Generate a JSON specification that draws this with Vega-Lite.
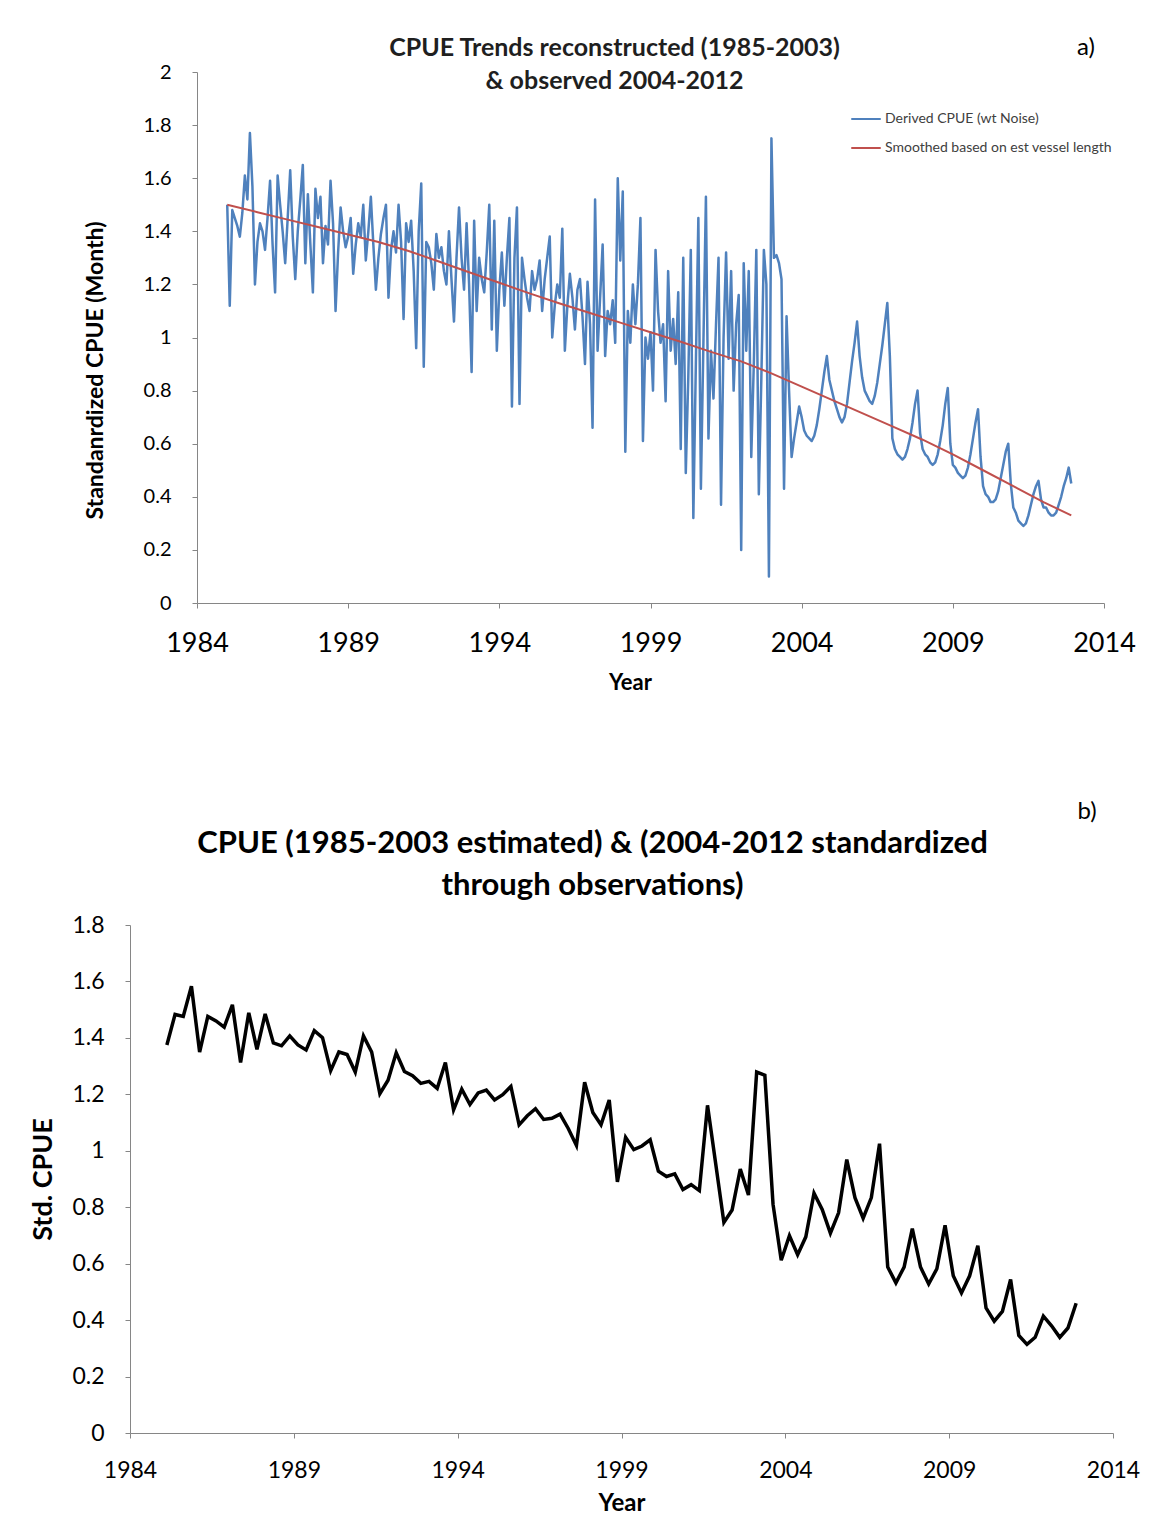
{
"$schema":"https://vega.github.io/schema/vega-lite/v6.json",
"padding":{"left":10,"top":36,"right":5,"bottom":5},
"background":"white",
"config":{"font":"Lato","view":{"stroke":null},"axis":{"grid":false,"domainColor":"#868686","tickColor":"#868686","tickSize":5,"labelColor":"#000","titleColor":"#000","labelFont":"Lato","titleFont":"Lato","labelFlush":false}},
"datasets":{
"monthly":[
{"t":1985,"v":1.50},{"t":1985.083,"v":1.12},{"t":1985.167,"v":1.48},{"t":1985.25,"v":1.45},{"t":1985.333,"v":1.42},{"t":1985.417,"v":1.38},{"t":1985.5,"v":1.47},{"t":1985.583,"v":1.61},{"t":1985.667,"v":1.52},{"t":1985.75,"v":1.77},{"t":1985.833,"v":1.57},{"t":1985.917,"v":1.20},
{"t":1986,"v":1.36},{"t":1986.083,"v":1.43},{"t":1986.167,"v":1.40},{"t":1986.25,"v":1.33},{"t":1986.333,"v":1.45},{"t":1986.417,"v":1.59},{"t":1986.5,"v":1.35},{"t":1986.583,"v":1.17},{"t":1986.667,"v":1.61},{"t":1986.75,"v":1.50},{"t":1986.833,"v":1.40},{"t":1986.917,"v":1.28},
{"t":1987,"v":1.45},{"t":1987.083,"v":1.63},{"t":1987.167,"v":1.38},{"t":1987.25,"v":1.22},{"t":1987.333,"v":1.40},{"t":1987.417,"v":1.52},{"t":1987.5,"v":1.65},{"t":1987.583,"v":1.28},{"t":1987.667,"v":1.54},{"t":1987.75,"v":1.35},{"t":1987.833,"v":1.17},{"t":1987.917,"v":1.56},
{"t":1988,"v":1.45},{"t":1988.083,"v":1.53},{"t":1988.167,"v":1.28},{"t":1988.25,"v":1.42},{"t":1988.333,"v":1.35},{"t":1988.417,"v":1.59},{"t":1988.5,"v":1.43},{"t":1988.583,"v":1.10},{"t":1988.667,"v":1.32},{"t":1988.75,"v":1.49},{"t":1988.833,"v":1.40},{"t":1988.917,"v":1.34},
{"t":1989,"v":1.38},{"t":1989.083,"v":1.45},{"t":1989.167,"v":1.24},{"t":1989.25,"v":1.35},{"t":1989.333,"v":1.43},{"t":1989.417,"v":1.38},{"t":1989.5,"v":1.50},{"t":1989.583,"v":1.29},{"t":1989.667,"v":1.40},{"t":1989.75,"v":1.53},{"t":1989.833,"v":1.35},{"t":1989.917,"v":1.18},
{"t":1990,"v":1.30},{"t":1990.083,"v":1.39},{"t":1990.167,"v":1.45},{"t":1990.25,"v":1.50},{"t":1990.333,"v":1.15},{"t":1990.417,"v":1.33},{"t":1990.5,"v":1.40},{"t":1990.583,"v":1.32},{"t":1990.667,"v":1.50},{"t":1990.75,"v":1.36},{"t":1990.833,"v":1.07},{"t":1990.917,"v":1.43},
{"t":1991,"v":1.36},{"t":1991.083,"v":1.44},{"t":1991.167,"v":1.25},{"t":1991.25,"v":0.96},{"t":1991.333,"v":1.40},{"t":1991.417,"v":1.58},{"t":1991.5,"v":0.89},{"t":1991.583,"v":1.36},{"t":1991.667,"v":1.34},{"t":1991.75,"v":1.28},{"t":1991.833,"v":1.18},{"t":1991.917,"v":1.39},
{"t":1992,"v":1.30},{"t":1992.083,"v":1.34},{"t":1992.167,"v":1.25},{"t":1992.25,"v":1.20},{"t":1992.333,"v":1.40},{"t":1992.417,"v":1.22},{"t":1992.5,"v":1.06},{"t":1992.583,"v":1.30},{"t":1992.667,"v":1.49},{"t":1992.75,"v":1.30},{"t":1992.833,"v":1.18},{"t":1992.917,"v":1.43},
{"t":1993,"v":1.20},{"t":1993.083,"v":0.87},{"t":1993.167,"v":1.44},{"t":1993.25,"v":1.10},{"t":1993.333,"v":1.30},{"t":1993.417,"v":1.22},{"t":1993.5,"v":1.17},{"t":1993.583,"v":1.32},{"t":1993.667,"v":1.50},{"t":1993.75,"v":1.03},{"t":1993.833,"v":1.44},{"t":1993.917,"v":0.95},
{"t":1994,"v":1.18},{"t":1994.083,"v":1.32},{"t":1994.167,"v":1.12},{"t":1994.25,"v":1.30},{"t":1994.333,"v":1.45},{"t":1994.417,"v":0.74},{"t":1994.5,"v":1.30},{"t":1994.583,"v":1.49},{"t":1994.667,"v":0.75},{"t":1994.75,"v":1.30},{"t":1994.833,"v":1.22},{"t":1994.917,"v":1.15},
{"t":1995,"v":1.10},{"t":1995.083,"v":1.25},{"t":1995.167,"v":1.18},{"t":1995.25,"v":1.22},{"t":1995.333,"v":1.29},{"t":1995.417,"v":1.10},{"t":1995.5,"v":1.22},{"t":1995.583,"v":1.30},{"t":1995.667,"v":1.38},{"t":1995.75,"v":1.00},{"t":1995.833,"v":1.12},{"t":1995.917,"v":1.20},
{"t":1996,"v":1.15},{"t":1996.083,"v":1.41},{"t":1996.167,"v":0.95},{"t":1996.25,"v":1.12},{"t":1996.333,"v":1.24},{"t":1996.417,"v":1.15},{"t":1996.5,"v":1.03},{"t":1996.583,"v":1.18},{"t":1996.667,"v":1.22},{"t":1996.75,"v":1.08},{"t":1996.833,"v":0.90},{"t":1996.917,"v":1.21},
{"t":1997,"v":1.05},{"t":1997.083,"v":0.66},{"t":1997.167,"v":1.52},{"t":1997.25,"v":0.95},{"t":1997.333,"v":1.15},{"t":1997.417,"v":1.35},{"t":1997.5,"v":0.93},{"t":1997.583,"v":1.10},{"t":1997.667,"v":1.05},{"t":1997.75,"v":1.14},{"t":1997.833,"v":0.98},{"t":1997.917,"v":1.60},
{"t":1998,"v":1.29},{"t":1998.083,"v":1.55},{"t":1998.167,"v":0.57},{"t":1998.25,"v":1.10},{"t":1998.333,"v":0.98},{"t":1998.417,"v":1.20},{"t":1998.5,"v":1.05},{"t":1998.583,"v":1.20},{"t":1998.667,"v":1.45},{"t":1998.75,"v":0.61},{"t":1998.833,"v":1.00},{"t":1998.917,"v":0.92},
{"t":1999,"v":1.02},{"t":1999.083,"v":0.80},{"t":1999.167,"v":1.33},{"t":1999.25,"v":1.10},{"t":1999.333,"v":0.98},{"t":1999.417,"v":1.05},{"t":1999.5,"v":0.76},{"t":1999.583,"v":1.25},{"t":1999.667,"v":0.95},{"t":1999.75,"v":1.07},{"t":1999.833,"v":0.90},{"t":1999.917,"v":1.17},
{"t":2000,"v":0.58},{"t":2000.083,"v":1.30},{"t":2000.167,"v":0.49},{"t":2000.25,"v":0.85},{"t":2000.333,"v":1.33},{"t":2000.417,"v":0.32},{"t":2000.5,"v":0.90},{"t":2000.583,"v":1.45},{"t":2000.667,"v":0.43},{"t":2000.75,"v":0.98},{"t":2000.833,"v":1.53},{"t":2000.917,"v":0.62},
{"t":2001,"v":0.95},{"t":2001.083,"v":0.77},{"t":2001.167,"v":1.05},{"t":2001.25,"v":1.30},{"t":2001.333,"v":0.37},{"t":2001.417,"v":1.00},{"t":2001.5,"v":1.32},{"t":2001.583,"v":0.92},{"t":2001.667,"v":1.25},{"t":2001.75,"v":0.80},{"t":2001.833,"v":1.05},{"t":2001.917,"v":1.16},
{"t":2002,"v":0.20},{"t":2002.083,"v":1.28},{"t":2002.167,"v":0.95},{"t":2002.25,"v":1.25},{"t":2002.333,"v":0.55},{"t":2002.417,"v":0.90},{"t":2002.5,"v":1.33},{"t":2002.583,"v":0.41},{"t":2002.667,"v":0.85},{"t":2002.75,"v":1.33},{"t":2002.833,"v":1.20},{"t":2002.917,"v":0.10},
{"t":2003,"v":1.75},{"t":2003.083,"v":1.30},{"t":2003.167,"v":1.31},{"t":2003.25,"v":1.28},{"t":2003.333,"v":1.22},{"t":2003.417,"v":0.43},{"t":2003.5,"v":1.08},{"t":2003.583,"v":0.80},{"t":2003.667,"v":0.55},{"t":2003.75,"v":0.62},{"t":2003.833,"v":0.68},{"t":2003.917,"v":0.74},
{"t":2004,"v":0.70},{"t":2004.083,"v":0.65},{"t":2004.167,"v":0.63},{"t":2004.25,"v":0.62},{"t":2004.333,"v":0.61},{"t":2004.417,"v":0.63},{"t":2004.5,"v":0.67},{"t":2004.583,"v":0.73},{"t":2004.667,"v":0.80},{"t":2004.75,"v":0.87},{"t":2004.833,"v":0.93},{"t":2004.917,"v":0.84},
{"t":2005,"v":0.80},{"t":2005.083,"v":0.76},{"t":2005.167,"v":0.73},{"t":2005.25,"v":0.70},{"t":2005.333,"v":0.68},{"t":2005.417,"v":0.70},{"t":2005.5,"v":0.75},{"t":2005.583,"v":0.83},{"t":2005.667,"v":0.91},{"t":2005.75,"v":0.98},{"t":2005.833,"v":1.06},{"t":2005.917,"v":0.93},
{"t":2006,"v":0.85},{"t":2006.083,"v":0.80},{"t":2006.167,"v":0.78},{"t":2006.25,"v":0.76},{"t":2006.333,"v":0.75},{"t":2006.417,"v":0.78},{"t":2006.5,"v":0.83},{"t":2006.583,"v":0.90},{"t":2006.667,"v":0.97},{"t":2006.75,"v":1.05},{"t":2006.833,"v":1.13},{"t":2006.917,"v":0.93},
{"t":2007,"v":0.62},{"t":2007.083,"v":0.58},{"t":2007.167,"v":0.56},{"t":2007.25,"v":0.55},{"t":2007.333,"v":0.54},{"t":2007.417,"v":0.55},{"t":2007.5,"v":0.58},{"t":2007.583,"v":0.62},{"t":2007.667,"v":0.68},{"t":2007.75,"v":0.75},{"t":2007.833,"v":0.80},{"t":2007.917,"v":0.64},
{"t":2008,"v":0.58},{"t":2008.083,"v":0.56},{"t":2008.167,"v":0.55},{"t":2008.25,"v":0.53},{"t":2008.333,"v":0.52},{"t":2008.417,"v":0.53},{"t":2008.5,"v":0.56},{"t":2008.583,"v":0.61},{"t":2008.667,"v":0.67},{"t":2008.75,"v":0.75},{"t":2008.833,"v":0.81},{"t":2008.917,"v":0.60},
{"t":2009,"v":0.52},{"t":2009.083,"v":0.51},{"t":2009.167,"v":0.49},{"t":2009.25,"v":0.48},{"t":2009.333,"v":0.47},{"t":2009.417,"v":0.48},{"t":2009.5,"v":0.51},{"t":2009.583,"v":0.56},{"t":2009.667,"v":0.62},{"t":2009.75,"v":0.68},{"t":2009.833,"v":0.73},{"t":2009.917,"v":0.55},
{"t":2010,"v":0.44},{"t":2010.083,"v":0.41},{"t":2010.167,"v":0.40},{"t":2010.25,"v":0.38},{"t":2010.333,"v":0.38},{"t":2010.417,"v":0.39},{"t":2010.5,"v":0.42},{"t":2010.583,"v":0.47},{"t":2010.667,"v":0.52},{"t":2010.75,"v":0.57},{"t":2010.833,"v":0.60},{"t":2010.917,"v":0.45},
{"t":2011,"v":0.36},{"t":2011.083,"v":0.34},{"t":2011.167,"v":0.31},{"t":2011.25,"v":0.30},{"t":2011.333,"v":0.29},{"t":2011.417,"v":0.30},{"t":2011.5,"v":0.33},{"t":2011.583,"v":0.37},{"t":2011.667,"v":0.41},{"t":2011.75,"v":0.44},{"t":2011.833,"v":0.46},{"t":2011.917,"v":0.39},
{"t":2012,"v":0.36},{"t":2012.083,"v":0.36},{"t":2012.167,"v":0.34},{"t":2012.25,"v":0.33},{"t":2012.333,"v":0.33},{"t":2012.417,"v":0.34},{"t":2012.5,"v":0.37},{"t":2012.583,"v":0.40},{"t":2012.667,"v":0.44},{"t":2012.75,"v":0.47},{"t":2012.833,"v":0.51},{"t":2012.917,"v":0.45}
],
"smooth":[
{"t":1985,"v":1.50},{"t":1986,"v":1.472},{"t":1987,"v":1.444},{"t":1988,"v":1.416},{"t":1989,"v":1.388},{"t":1990,"v":1.36},{"t":1991,"v":1.326},{"t":1992,"v":1.286},{"t":1993,"v":1.246},{"t":1994,"v":1.206},{"t":1995,"v":1.166},{"t":1996,"v":1.128},{"t":1997,"v":1.092},{"t":1998,"v":1.056},{"t":1999,"v":1.02},{"t":2000,"v":0.984},{"t":2001,"v":0.946},{"t":2002,"v":0.91},{"t":2003,"v":0.865},{"t":2004,"v":0.815},{"t":2005,"v":0.765},{"t":2006,"v":0.715},{"t":2007,"v":0.665},{"t":2008,"v":0.615},{"t":2009,"v":0.56},{"t":2010,"v":0.50},{"t":2011,"v":0.44},{"t":2012,"v":0.38},{"t":2012.917,"v":0.33}
],
"quarterly":[
{"t":1985.125,"v":1.375},{"t":1985.375,"v":1.483},{"t":1985.625,"v":1.476},{"t":1985.875,"v":1.583},
{"t":1986.125,"v":1.350},{"t":1986.375,"v":1.476},{"t":1986.625,"v":1.460},{"t":1986.875,"v":1.438},
{"t":1987.125,"v":1.517},{"t":1987.375,"v":1.313},{"t":1987.625,"v":1.489},{"t":1987.875,"v":1.359},
{"t":1988.125,"v":1.485},{"t":1988.375,"v":1.382},{"t":1988.625,"v":1.372},{"t":1988.875,"v":1.407},
{"t":1989.125,"v":1.375},{"t":1989.375,"v":1.357},{"t":1989.625,"v":1.426},{"t":1989.875,"v":1.401},
{"t":1990.125,"v":1.284},{"t":1990.375,"v":1.350},{"t":1990.625,"v":1.341},{"t":1990.875,"v":1.279},
{"t":1991.125,"v":1.407},{"t":1991.375,"v":1.350},{"t":1991.625,"v":1.202},{"t":1991.875,"v":1.250},
{"t":1992.125,"v":1.347},{"t":1992.375,"v":1.281},{"t":1992.625,"v":1.266},{"t":1992.875,"v":1.239},
{"t":1993.125,"v":1.246},{"t":1993.375,"v":1.221},{"t":1993.625,"v":1.313},{"t":1993.875,"v":1.145},
{"t":1994.125,"v":1.218},{"t":1994.375,"v":1.164},{"t":1994.625,"v":1.205},{"t":1994.875,"v":1.215},
{"t":1995.125,"v":1.180},{"t":1995.375,"v":1.199},{"t":1995.625,"v":1.228},{"t":1995.875,"v":1.092},
{"t":1996.125,"v":1.124},{"t":1996.375,"v":1.149},{"t":1996.625,"v":1.111},{"t":1996.875,"v":1.115},
{"t":1997.125,"v":1.130},{"t":1997.375,"v":1.079},{"t":1997.625,"v":1.019},{"t":1997.875,"v":1.243},
{"t":1998.125,"v":1.136},{"t":1998.375,"v":1.092},{"t":1998.625,"v":1.180},{"t":1998.875,"v":0.890},
{"t":1999.125,"v":1.048},{"t":1999.375,"v":1.004},{"t":1999.625,"v":1.017},{"t":1999.875,"v":1.039},
{"t":2000.125,"v":0.928},{"t":2000.375,"v":0.909},{"t":2000.625,"v":0.918},{"t":2000.875,"v":0.863},
{"t":2001.125,"v":0.880},{"t":2001.375,"v":0.859},{"t":2001.625,"v":1.161},{"t":2001.875,"v":0.954},
{"t":2002.125,"v":0.746},{"t":2002.375,"v":0.790},{"t":2002.625,"v":0.935},{"t":2002.875,"v":0.843},
{"t":2003.125,"v":1.279},{"t":2003.375,"v":1.268},{"t":2003.625,"v":0.810},{"t":2003.875,"v":0.612},
{"t":2004.125,"v":0.699},{"t":2004.375,"v":0.632},{"t":2004.625,"v":0.695},{"t":2004.875,"v":0.850},
{"t":2005.125,"v":0.792},{"t":2005.375,"v":0.708},{"t":2005.625,"v":0.780},{"t":2005.875,"v":0.969},
{"t":2006.125,"v":0.834},{"t":2006.375,"v":0.761},{"t":2006.625,"v":0.834},{"t":2006.875,"v":1.025},
{"t":2007.125,"v":0.588},{"t":2007.375,"v":0.532},{"t":2007.625,"v":0.588},{"t":2007.875,"v":0.724},
{"t":2008.125,"v":0.588},{"t":2008.375,"v":0.528},{"t":2008.625,"v":0.582},{"t":2008.875,"v":0.736},
{"t":2009.125,"v":0.557},{"t":2009.375,"v":0.496},{"t":2009.625,"v":0.557},{"t":2009.875,"v":0.664},
{"t":2010.125,"v":0.443},{"t":2010.375,"v":0.396},{"t":2010.625,"v":0.431},{"t":2010.875,"v":0.544},
{"t":2011.125,"v":0.346},{"t":2011.375,"v":0.314},{"t":2011.625,"v":0.339},{"t":2011.875,"v":0.414},
{"t":2012.125,"v":0.380},{"t":2012.375,"v":0.339},{"t":2012.625,"v":0.372},{"t":2012.875,"v":0.460}
],
"labelA":[{"t":2013.4,"v":2.09,"label":"a)"}]
},
"concat":[
{"concat":[
 {"width":74,"height":10,"data":{"values":[]},"mark":"point","encoding":{}},
 {"width":907,"height":531,
  "title":{"text":["CPUE Trends reconstructed (1985-2003)","& observed 2004-2012"],"font":"Lato","fontSize":25,"fontWeight":"bold","lineHeight":33,"offset":-58,"dx":-36,"color":"#1f1f1f","anchor":"middle"},
  "encoding":{
   "x":{"field":"t","type":"quantitative","scale":{"domain":[1984,2014],"nice":false,"zero":false},"axis":{"values":[1984,1989,1994,1999,2004,2009,2014],"format":"d","title":"Year","labelFontSize":27,"labelPadding":22,"titleFontSize":22,"titleFontWeight":"bold","titlePadding":16,"titleX":433}},
   "y":{"field":"v","type":"quantitative","scale":{"domain":[0,2],"nice":false},"axis":{"values":[0,0.2,0.4,0.6,0.8,1,1.2,1.4,1.6,1.8,2],"format":"~g","title":"Standanrdized CPUE (Month)","labelFontSize":20,"labelPadding":21,"titleFontSize":23,"titleFontWeight":"bold","titlePadding":36,"titleY":298}}
  },
  "layer":[
   {"data":{"name":"monthly"},"mark":{"type":"line","strokeWidth":2.5,"strokeJoin":"round"},
    "encoding":{"color":{"datum":"Derived CPUE (wt Noise)","type":"nominal","scale":{"domain":["Derived CPUE (wt Noise)","Smoothed based on est vessel length"],"range":["#4F81BD","#C0504D"]},
     "legend":{"title":null,"orient":"none","legendX":840,"legendY":31,"symbolType":"stroke","symbolSize":870,"symbolStrokeWidth":2,"labelFontSize":14,"labelColor":"#404040","labelFont":"Lato","labelOffset":3,"labelLimit":400,"rowPadding":6}}}},
   {"data":{"name":"smooth"},"mark":{"type":"line","strokeWidth":2},
    "encoding":{"color":{"datum":"Smoothed based on est vessel length","type":"nominal"}}},
   {"data":{"name":"labelA"},"mark":{"type":"text","fontSize":24,"font":"Lato","color":"#000"},"encoding":{"text":{"field":"label"}}}
  ]
 }
 ],"align":"none","spacing":0},
{"title":{"text":"b)","anchor":"end","font":"Lato","fontSize":24,"fontWeight":"normal","color":"#000","offset":4,"dx":-43},
 "concat":[
 {"width":19,"height":10,"data":{"values":[]},"mark":"point","encoding":{}},
 {"width":983,"height":508,
  "title":{"text":["CPUE (1985-2003 estimated) & (2004-2012 standardized","through observations)"],"font":"Lato","fontSize":31,"fontWeight":"bold","lineHeight":42,"offset":12,"dx":-29,"color":"#000","anchor":"middle"},
  "encoding":{
   "x":{"field":"t","type":"quantitative","scale":{"domain":[1984,2014],"nice":false,"zero":false},"axis":{"values":[1984,1989,1994,1999,2004,2009,2014],"format":"d","title":"Year","labelFontSize":23,"labelPadding":21,"titleFontSize":24,"titleFontWeight":"bold","titlePadding":9}},
   "y":{"field":"v","type":"quantitative","scale":{"domain":[0,1.8],"nice":false},"axis":{"values":[0,0.2,0.4,0.6,0.8,1,1.2,1.4,1.6,1.8],"format":"~g","title":"Std. CPUE","labelFontSize":23,"labelPadding":21,"titleFontSize":27,"titleFontWeight":"bold","titlePadding":14}}
  },
  "mark":{"type":"line","color":"#000","strokeWidth":3.5},
  "data":{"name":"quarterly"}
 }
 ],"align":"none","spacing":0}
],
"columns":1,
"align":"none",
"spacing":107
}
